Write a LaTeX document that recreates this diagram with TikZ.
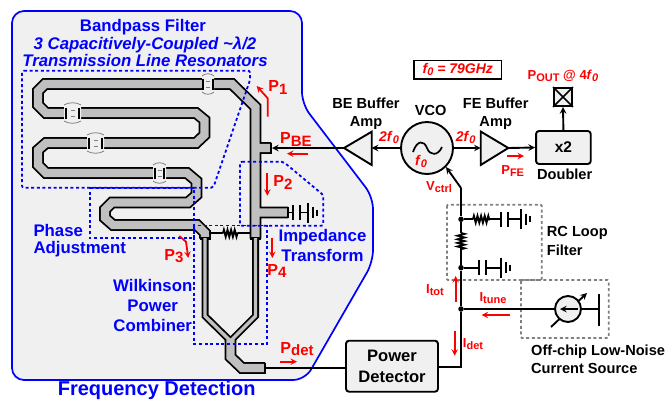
\documentclass[tikz,border=0pt]{standalone}
\usepackage{fontspec}
\setmainfont{Liberation Sans}
\usetikzlibrary{decorations.pathmorphing}
\definecolor{panelgray}{HTML}{F0F0F0}
\definecolor{tlgray}{HTML}{C0C0C0}
\definecolor{boxgray}{HTML}{808080}
\newcommand{\lsub}[2][15]{\raisebox{-0.3ex}{\fontsize{#1}{#1}\selectfont #2}}
\tikzset{
  wire/.style={draw=black, line width=1.9pt},
  sig/.style={wire, ->, >=stealth},
  redarrow/.style={draw=red, line width=1.8pt, ->, >=stealth},
  tline/.style={draw=black, line width=1.8pt, double=tlgray, double distance=8.2pt, line join=miter},
  tlthin/.style={draw=black, line width=1.8pt, double=tlgray, double distance=3.4pt, line join=miter},
  tlcap/.style={draw=black, line width=2.4pt},
  gapline/.style={draw=boxgray, line width=0.8pt},
  blueframe/.style={draw=blue, line width=1.8pt, dash pattern=on 3pt off 2.6pt},
  grayframe/.style={draw=boxgray, line width=1.8pt, dash pattern=on 3pt off 2.6pt},
  resistor/.style={wire, decorate, decoration={zigzag, segment length=3.6pt, amplitude=3.4pt}},
  block/.style={draw=black, line width=1.9pt, fill=panelgray, rounded corners=3pt, inner sep=0pt},
  dot/.style={circle, fill=black, inner sep=0pt, minimum size=5.5pt},
  bluelabel/.style={text=blue, align=center, inner sep=0pt, font=\fontsize{16.8}{20}\selectfont\bfseries},
  redlabel/.style={text=red, inner sep=0pt, font=\fontsize{16}{18}\selectfont\bfseries},
  redsmall/.style={text=red, inner sep=0pt, font=\fontsize{13}{15}\selectfont\bfseries},
  blacklabel/.style={text=black, align=center, inner sep=0pt, font=\fontsize{14.6}{18.5}\selectfont\bfseries},
  pics/capgnd/.style={code={
    \draw[wire] (0,-7.5) -- (0,7.5);
    \draw[wire] (7,-7.5) -- (7,7.5);
    \draw[wire] (7,0) -- (7+#1,0);
    \draw[wire] (7+#1,-10) -- (7+#1,10);
    \draw[wire] (12+#1,-5.5) -- (12+#1,5.5);
    \draw[wire] (16+#1,-3) -- (16+#1,3);
  }},
  pics/tlgap/.style={code={
    \fill[panelgray] (-#1,-8) .. controls (-#1/2,-11) and (#1/2,-11) .. (#1,-8) -- (#1,8)
      .. controls (#1/2,11) and (-#1/2,11) .. (-#1,8) -- cycle;
    \draw[gapline] (-#1,-8) .. controls (-#1/2,-11) and (#1/2,-11) .. (#1,-8);
    \draw[gapline] (-#1,8) .. controls (-#1/2,11) and (#1/2,11) .. (#1,8);
    \draw[gapline] (-2,-3) -- (2,-3) (-2,3) -- (2,3);
  }},
}
\begin{document}
\begin{tikzpicture}[x=1pt,y=-1pt]
  \useasboundingbox (0,0) rectangle (670,400);
  % frequency detection panel
  \draw[draw=blue, line width=1.7pt, fill=panelgray, rounded corners=12pt]
    (12,11) -- (302,11) -- (302,104) -- (373,197) -- (373,262) -- (305,380) -- (12,380) -- cycle;

  % resonators and output line
  \draw[tline]
    (203,84) -- (45,84) -- (38,91) -- (38,105) -- (46,113) -- (66,113)
    (79,113) -- (196,113) -- (204.5,120) -- (204.5,135) -- (196,143) -- (102,143)
    (89,143) -- (46,143) -- (38,150) -- (38,165) -- (46,173) -- (155,173)
    (164,173) -- (187,173) -- (196.5,181) -- (196.5,195) -- (188,202.5) -- (112,202.5)
      -- (105,209.5) -- (105,218) -- (113,225) -- (197,225) -- (205,233) -- (205,238.5);
  \draw[tline]
    (213,84) -- (232,84) -- (255.5,107) -- (255.5,238.5)
    (255.5,148) -- (271,148)
    (255.5,212.5) -- (288,212.5);
  \foreach \gapx/\gapy/\gapw in {208/84/6, 72.5/113/8.5, 95.5/143/8.5, 159.5/173/6.5}
    \pic at (\gapx,\gapy) {tlgap=\gapw};
  \foreach \capx/\capy in {203/84, 213/84, 66/113, 79/113, 89/143, 102/143, 155/173, 164/173, 271/148, 288/212.5}
    \draw[tlcap] (\capx,\capy-5.5) -- (\capx,\capy+5.5);
  \draw[tlcap] (199.5,238.5) -- (210.5,238.5);
  \draw[tlcap] (250,238.5) -- (261,238.5);
  % wilkinson arms
  \draw[tlthin] (205,238) -- (205,316) -- (230.5,341) -- (255.5,316) -- (255.5,238);
  \draw[tline] (230.5,339) -- (230.5,357) -- (242,368) -- (265,368);
  \draw[tlcap] (265,362.5) -- (265,373.5);

  % dashed frames
  \draw[blueframe, rounded corners=2pt] (22,70.7) -- (250,70.7) -- (250,80) -- (213.3,187.7) -- (22,187.7) -- cycle;
  \draw[blueframe] (90,188) -- (194.3,188) -- (194.3,238.3) -- (90,238.3) -- cycle;
  \draw[blueframe] (194.3,225.5) rectangle (266.7,344);
  \draw[blueframe, rounded corners=2pt] (240,161.7) -- (283.3,161.7) -- (323.3,195) -- (323.3,225.7) -- (240,225.7) -- cycle;
  \draw[grayframe, rounded corners=1pt] (447,204.7) rectangle (541.7,280);
  \draw[grayframe, rounded corners=1pt] (521,280) rectangle (608.7,338);

  % vco chain
  \node[circle, draw=black, line width=1.9pt, fill=panelgray, minimum size=52pt, inner sep=0pt] (vco) at (427,148) {};
  \draw[line width=1.7pt] (413,152) .. controls (417,140) and (424,140) .. (427,148) .. controls (430,156) and (438,156) .. (442,147);
  \draw[wire, fill=panelgray, line join=miter] (344,148) -- (371.7,131.7) -- (371.7,165) -- cycle;
  \draw[wire, fill=panelgray, line join=miter] (480.7,131.5) -- (508.3,148) -- (480.7,165) -- cycle;
  \coordinate (bebase) at (371.7,148);
  \coordinate (beapex) at (344,148);
  \coordinate (bestub) at (272,148);
  \coordinate (febase) at (480.7,148);
  \coordinate (feapex) at (508.3,148);
  \node[block, minimum width=54.7pt, minimum height=33pt, font=\fontsize{15.5}{18}\selectfont\bfseries] (doubler) at (563.4,147.5) {x2};
  \node[draw=black, line width=1.9pt, fill=panelgray, minimum size=18pt, inner sep=0pt] (padout) at (563,97) {};
  \draw[line width=1.7pt] (padout.north west) -- (padout.south east) (padout.north east) -- (padout.south west);
  \draw[sig] (vco.west) -- (bebase);
  \draw[sig] (beapex) -- (bestub);
  \draw[sig] (vco.east) -- (febase);
  \draw[sig] (feapex) -- (doubler.west);
  \draw[sig] (doubler.north) -- (padout.south);

  % power detector and tuning
  \node[block, minimum width=92pt, minimum height=51pt, align=center, font=\fontsize{16.6}{20.5}\selectfont\bfseries] (detector) at (392,366.2) {Power\\Detector};
  \coordinate (pdetend) at (265,368);
  \draw[wire] (pdetend) -- (detector.west |- pdetend);
  \node[dot] (dottop) at (461,219.3) {};
  \node[dot] (dotmid) at (461,267.7) {};
  \node[dot] (dotsum) at (461,309) {};
  \coordinate (ctrlbend) at (461,188);
  \coordinate (detcorner) at (461,366.7);
  \coordinate (resa) at (461,233);
  \coordinate (resb) at (461,251);
  \draw[sig] (ctrlbend) -- (vco.-45);
  \draw[wire] (ctrlbend) -- (dottop) -- (resa);
  \draw[resistor] (resa) -- (resb);
  \draw[wire] (resb) -- (dotmid) -- (dotsum) -- (detcorner) -- (detector.east |- detcorner);
  \coordinate (hresa) at (473,219.3);
  \coordinate (hresb) at (490,219.3);
  \coordinate (capa) at (500.7,219.3);
  \coordinate (capb) at (479,267.7);
  \coordinate (capc) at (288,212.5);
  \draw[wire] (dottop) -- (hresa);
  \draw[resistor] (hresa) -- (hresb);
  \draw[wire] (hresb) -- (capa);
  \pic at (capa) {capgnd=13.7};
  \draw[wire] (dotmid) -- (capb);
  \pic at (capb) {capgnd=15};
  \draw[wire] (capc) -- (293,212.5);
  \pic at (293,212.5) {capgnd=7.7};
  % wilkinson resistor
  \coordinate (wlkl) at (209,233.3);
  \coordinate (wlkr) at (250,233.3);
  \coordinate (wlka) at (223,233.3);
  \coordinate (wlkb) at (238,233.3);
  \draw[wire] (wlkl) -- (wlka);
  \draw[resistor] (wlka) -- (wlkb);
  \draw[wire] (wlkb) -- (wlkr);
  % current source
  \draw[sig] (551,327) -- (587,293);
  \node[circle, draw=black, line width=1.9pt, fill=panelgray, minimum size=26pt, inner sep=0pt] (csource) at (568,309) {};
  \coordinate (csbar) at (599,309);
  \draw[wire] (dotsum) -- (csource.west);
  \draw[wire] (csource.east) -- (csbar);
  \draw[wire] (599,294) -- (599,326);
  \draw[sig] (578,309) -- (560,309);

  % power and current arrows
  \draw[redarrow] (267.7,116.7) -- (267.7,98.3) -- (256.7,86);
  \draw[redarrow] (308,153.7) -- (287,153.7);
  \draw[redarrow] (267.3,173) -- (267.3,195.7);
  \draw[redarrow] (179.3,236) -- (186,241.7) -- (188.3,258);
  \draw[redarrow] (272.3,238) -- (272.3,258);
  \draw[redarrow] (280,361.7) -- (297,361.7);
  \draw[redarrow] (507,156) -- (524,156);
  \draw[redarrow] (455.7,301.7) -- (455.7,276);
  \draw[redarrow] (510,315) -- (481.7,315);
  \draw[redarrow] (454.7,330.7) -- (454.7,355.7);

  % blue titles
  \node[bluelabel] (bpf) at (143,26.7) {Bandpass Filter};
  \node[bluelabel, font=\fontsize{16.8}{20}\selectfont\bfseries\itshape] (bpfsub) at (145,51.5) {3 Capacitively-Coupled \textasciitilde λ/2\\[-2.9pt]Transmission Line Resonators};
  \node[bluelabel, align=left, anchor=west] (phase) at (33.3,240.5) {Phase\\[-3pt]Adjustment};
  \node[bluelabel] (wilk) at (152.7,305.5) {Wilkinson\\Power\\Combiner};
  \node[bluelabel] (imped) at (322.5,245) {Impedance\\Transform};
  \node[bluelabel, anchor=base, font=\fontsize{20}{24}\selectfont\bfseries] (freq) at (156.7,395.2) {Frequency Detection};

  % red labels
  \node[redlabel] (p1) at (278,87.3) {P\lsub{1}};
  \node[redlabel] (pbe) at (296,139.5) {P\lsub{BE}};
  \node[redlabel] (p2) at (283,182.7) {P\lsub{2}};
  \node[redlabel] (p3) at (174,256) {P\lsub{3}};
  \node[redlabel] (p4) at (277,271) {P\lsub{4}};
  \node[redlabel] (pdet) at (297,349) {P\lsub{det}};
  \node[redsmall] (pfe) at (512.7,170.7) {P\lsub[11]{FE}};
  \node[redsmall] (pout) at (563,76) {P\lsub[11]{OUT} @ 4\textit{f}\lsub[11]{\textit{0}}};
  \node[redsmall, font=\fontsize{14}{16}\selectfont\bfseries] (lf2) at (389,137.7) {\textit{2f}\lsub[11]{\textit{0}}};
  \node[redsmall, font=\fontsize{14}{16}\selectfont\bfseries] (rf2) at (465.7,137.7) {\textit{2f}\lsub[11]{\textit{0}}};
  \node[redsmall, font=\fontsize{14}{16}\selectfont\bfseries] (f0) at (421,161.7) {\textit{f}\lsub[11]{\textit{0}}};
  \node[redsmall] (vctrl) at (439,186.7) {V\lsub[11]{ctrl}};
  \node[redsmall] (itot) at (435,290) {I\lsub[11]{tot}};
  \node[redsmall] (itune) at (493,298) {I\lsub[11]{tune}};
  \node[redsmall] (idet) at (473,344) {I\lsub[11]{det}};
  \node[draw=black, line width=1.5pt, minimum width=87.7pt, minimum height=18.3pt, inner sep=0pt, text=red, font=\fontsize{14}{16}\selectfont\bfseries\itshape] (fbox) at (457.8,69.8) {f\lsub[11]{0} = 79GHz};

  % black labels
  \node[blacklabel] (beamp) at (366,113.5) {BE Buffer\\Amp};
  \node[blacklabel] (feamp) at (495.7,113.5) {FE Buffer\\Amp};
  \node[blacklabel] (vcotxt) at (430.7,110.7) {VCO};
  \node[blacklabel] (dbl) at (564.7,174) {Doubler};
  \node[blacklabel, align=left, anchor=west] (rcl) at (546.7,241) {RC Loop\\Filter};
  \node[blacklabel, align=left, anchor=west] (offchip) at (531,359.5) {Off-chip Low-Noise\\Current Source};
\end{tikzpicture}
\end{document}
